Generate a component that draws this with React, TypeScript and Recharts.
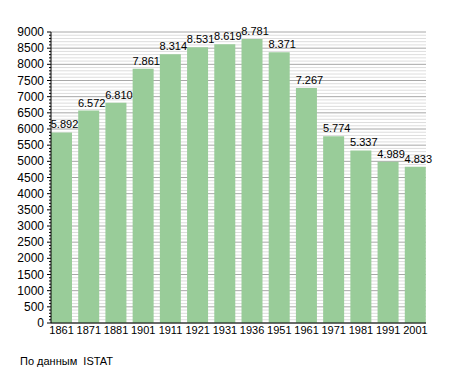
import React from "react";
import { BarChart, Bar, XAxis, YAxis, CartesianGrid, LabelList } from "recharts";

const years = ["1861", "1871", "1881", "1901", "1911", "1921", "1931", "1936", "1951", "1961", "1971", "1981", "1991", "2001"];
const population = [5892, 6572, 6810, 7861, 8314, 8531, 8619, 8781, 8371, 7267, 5774, 5337, 4989, 4833];
const majorTicks = [0, 500, 1000, 1500, 2000, 2500, 3000, 3500, 4000, 4500, 5000, 5500, 6000, 6500, 7000, 7500, 8000, 8500, 9000];
const minorStep = 100;
const yTicks = Array.from({ length: 9000 / minorStep + 1 }, (_, i) => i * minorStep);

const data = years.map((year, i) => ({ year, value: population[i] }));

const font = "'Liberation Sans', Arial, sans-serif";

function fmt(v: any) {
  return Number(v).toLocaleString("de-DE");
}

function YTick(p: any) {
  const v = p.payload.value;
  const major = majorTicks.includes(v);
  return (
    <g>
      <line x1={p.x - (major ? 4 : 2)} x2={p.x} y1={p.y} y2={p.y} stroke="#000" />
      {major && (
        <text x={p.x - 7} y={p.y} dy={4} textAnchor="end" fontSize={12} fill="#000" fontFamily={font}>
          {v}
        </text>
      )}
    </g>
  );
}

function GridLine(p: any) {
  const major = p.index % 5 === 0;
  return (
    <line
      key={p.key}
      x1={p.x1}
      x2={p.x2}
      y1={p.y1}
      y2={p.y2}
      stroke={major ? "#a8a8a8" : "#dddddd"}
      strokeWidth={1}
    />
  );
}

function ValueLabel(p: any) {
  return (
    <text
      x={p.x + p.width / 2 + 3}
      y={p.y - 4}
      textAnchor="middle"
      fontSize={11}
      fill="#000"
      fontFamily={font}
    >
      {fmt(p.value)}
    </text>
  );
}

export default function App() {
  return (
    <div style={{ position: "absolute", left: 0, top: 0, width: 455, height: 373, background: "#fff", fontFamily: font }}>
      <BarChart
        width={455}
        height={373}
        data={data}
        margin={{ top: 32, right: 29, bottom: 30, left: 0 }}
        barCategoryGap={3}
      >
        <CartesianGrid vertical={false} horizontal={GridLine as any} />
        <XAxis
          dataKey="year"
          height={20}
          padding={{ left: -3, right: -3 }}
          tickLine={false}
          tickSize={0}
          tickMargin={3}
          interval={0}
          stroke="#000"
          tick={{ fill: "#000", fontSize: 11, fontFamily: font }}
        />
        <YAxis
          width={51}
          domain={[0, 9000]}
          ticks={yTicks}
          interval={0}
          tickLine={false}
          tickSize={0}
          tickMargin={0}
          stroke="#000"
          tick={YTick}
        />
        <Bar dataKey="value" fill="#99cc99" isAnimationActive={false}>
          <LabelList dataKey="value" content={ValueLabel} />
        </Bar>
      </BarChart>
      <div style={{ position: "absolute", left: 20, top: 355, fontSize: 11, lineHeight: "13px", color: "#000", whiteSpace: "pre" }}>
        По данным  ISTAT
      </div>
    </div>
  );
}
